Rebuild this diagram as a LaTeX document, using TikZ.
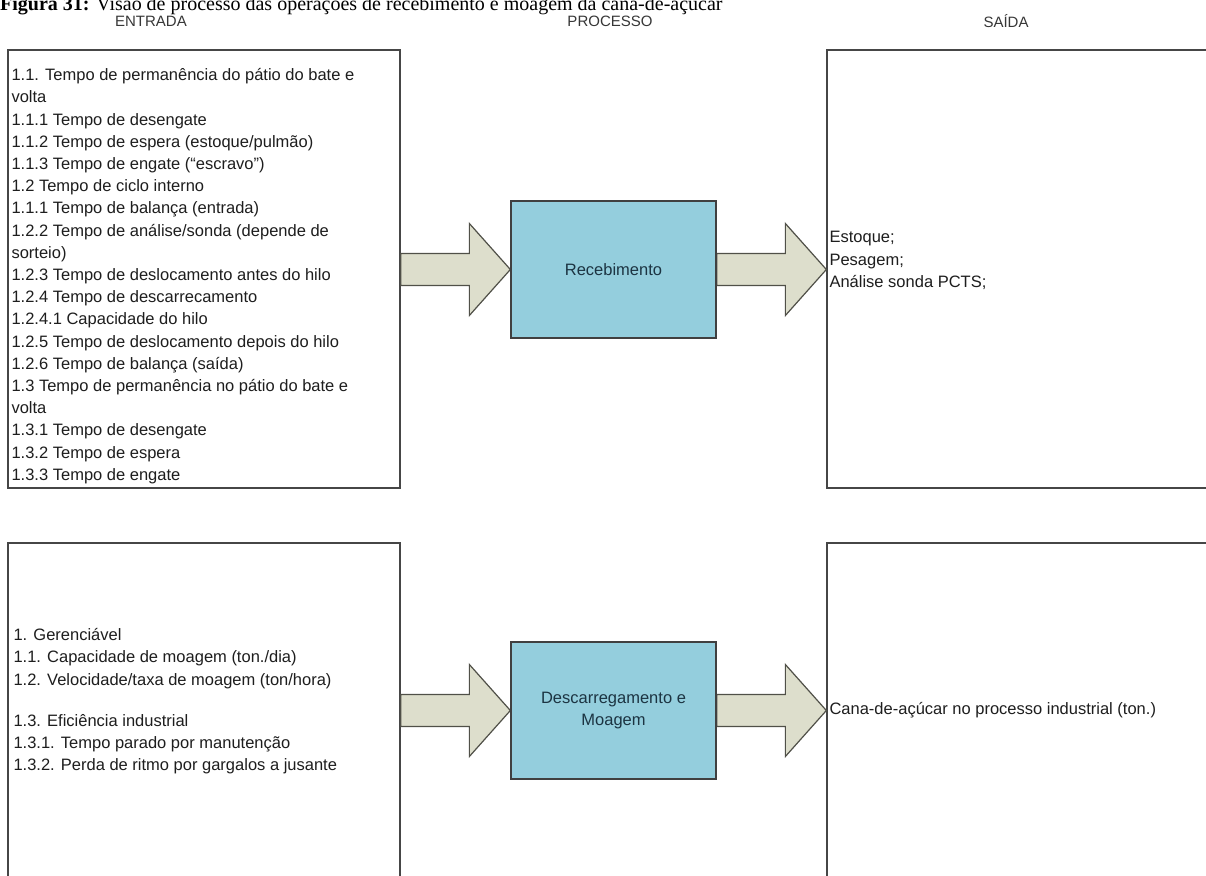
\documentclass[tikz,border=0pt]{standalone}
\usepackage{fontspec}
\usepackage{tikz}
\usetikzlibrary{calc,positioning}
\setmainfont{Liberation Serif}
\newfontfamily\arialfont{Liberation Sans}
\definecolor{procblue}{RGB}{148,206,221}
\definecolor{proctext}{RGB}{28,52,66}
\definecolor{arrowfill}{RGB}{221,222,204}
\definecolor{arrowline}{RGB}{80,80,72}
\definecolor{boxline}{RGB}{70,70,70}
\definecolor{hdrgray}{RGB}{55,55,55}
\definecolor{bodytext}{RGB}{30,30,30}

% block arrow from a start point to a tip point
\newcommand{\blockarrow}[2]{%
  \filldraw[flowarrow] let \p1=#1, \p2=#2 in
    (\x1,\y2+16pt) -- (\x2-41pt,\y2+16pt) -- (\x2-41pt,\y2+46pt) -- (\p2)
    -- (\x2-41pt,\y2-46pt) -- (\x2-41pt,\y2-16pt) -- (\x1,\y2-16pt) -- cycle;}

\begin{document}
\begin{tikzpicture}[x=1pt,y=-1pt,
    bigbox/.style={draw=boxline,line width=1.3pt,fill=white,minimum width=392pt,inner sep=0pt},
    procbox/.style={draw=black!75,line width=1.3pt,fill=procblue,minimum width=205pt,minimum height=137pt,
      text=proctext,align=center,font=\arialfont\fontsize{16.5}{22.2}\selectfont},
    itemtext/.style={inner sep=0pt,align=left,text=bodytext,font=\arialfont\fontsize{16.5}{22.2}\selectfont},
    header/.style={text=hdrgray,font=\arialfont\fontsize{15}{18}\selectfont},
    flowarrow/.style={draw=arrowline,line width=1.2pt,fill=arrowfill,line join=miter}]

    \clip (0,0) rectangle (1206,875);
    \fill[white] (0,0) rectangle (1206,875);

    % Title, cut at the top of the page
    \node[anchor=base west,inner sep=0pt,font=\fontsize{20}{24}\selectfont] (title) at (0,11)
      {\textbf{Figura 31:} Visão de processo das operações de recebimento e moagem da cana-de-açúcar};

    % Column headers
    \node[header] (hdrEntrada) at (151,21) {ENTRADA};
    \node[header] (hdrProcesso) at (610,21) {PROCESSO};
    \node[header] (hdrSaida) at (1006,21) {SAÍDA};

    % Input and output boxes
    \node[bigbox,minimum height=438pt] (ent1) at (204,269) {};
    \node[bigbox,minimum width=400pt,minimum height=438pt] (sai1) at (1027,269) {};
    \node[bigbox,minimum height=357pt] (ent2) at (204,721.5) {};
    \node[bigbox,minimum width=400pt,minimum height=357pt] (sai2) at (1027,721.5) {};

    % Arrows into and out of the process boxes
    \coordinate (rec) at (613.5,269.5);
    \coordinate (moag) at (613.5,710.5);
    \node[procbox] (rec) at (rec) {Recebimento};
    \node[procbox] (moag) at (moag) {Descarregamento e\\Moagem};
    \blockarrow{(ent1.east |- rec.west)}{(rec.west)}
    \blockarrow{(rec.east)}{(sai1.west |- rec.east)}
    \blockarrow{(ent2.east |- moag.west)}{(moag.west)}
    \blockarrow{(moag.east)}{(sai2.west |- moag.east)}
    \node[procbox] at (rec) {Recebimento};
    \node[procbox] at (moag) {Descarregamento e\\Moagem};

    % Texts of the boxes
    \node[itemtext,anchor=north west] (ent1txt) at ($(ent1.north west)+(4,19)$) {1.1. Tempo de permanência do pátio do bate e\\volta\\1.1.1 Tempo de desengate\\1.1.2 Tempo de espera (estoque/pulmão)\\1.1.3 Tempo de engate (“escravo”)\\1.2 Tempo de ciclo interno\\1.1.1 Tempo de balança (entrada)\\1.2.2 Tempo de análise/sonda (depende de\\sorteio)\\1.2.3 Tempo de deslocamento antes do hilo\\1.2.4 Tempo de descarrecamento\\1.2.4.1 Capacidade do hilo\\1.2.5 Tempo de deslocamento depois do hilo\\1.2.6 Tempo de balança (saída)\\1.3 Tempo de permanência no pátio do bate e\\volta\\1.3.1 Tempo de desengate\\1.3.2 Tempo de espera\\1.3.3 Tempo de engate};
    \node[itemtext,anchor=north west] (sai1txt) at ($(sai1.west |- ent1.north)+(3,182)$) {Estoque;\\Pesagem;\\Análise sonda PCTS;};
    \node[itemtext,anchor=north west] (ent2txt) at ($(ent2.north west)+(6,86)$) {1. Gerenciável\\1.1. Capacidade de moagem (ton./dia)\\1.2. Velocidade/taxa de moagem (ton/hora)\\[18.8pt]1.3. Eficiência industrial\\1.3.1. Tempo parado por manutenção\\1.3.2. Perda de ritmo por gargalos a jusante};
    \node[itemtext,anchor=west] (sai2txt) at ($(sai2.west |- moag.east)+(3,0)$) {Cana-de-açúcar no processo industrial (ton.)};
\end{tikzpicture}
\end{document}
